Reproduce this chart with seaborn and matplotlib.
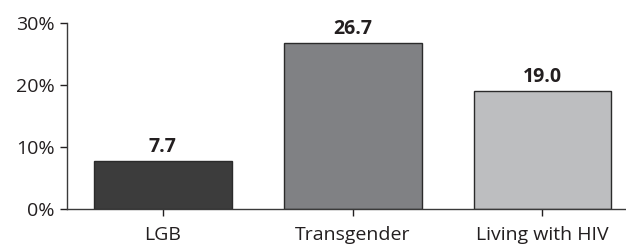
import pandas as pd
import seaborn as sns
import matplotlib.pyplot as plt
from matplotlib.ticker import FuncFormatter

# ---------------------------
# Datos
# ---------------------------
categorias = ["LGB", "Transgender", "Living with HIV"]
valores = [7.7, 26.7, 19.0]
colores = ["#3c3c3c", "#808184", "#bdbec0"]

df = pd.DataFrame({"grupo": categorias, "pct": valores})

# ---------------------------
# Figura
# ---------------------------
sns.set_style("ticks")
plt.rcParams["font.family"] = ["Open Sans", "DejaVu Sans"]

fig = plt.figure(figsize=(6.26, 2.45), dpi=100)
ax = fig.add_axes([0.107, 0.147, 0.893, 0.759])

sns.barplot(data=df, x="grupo", y="pct", hue="grupo", palette=colores,
            legend=False, width=0.726, edgecolor="#2b2b2b", linewidth=1.0,
            saturation=1, ax=ax)

for i, v in enumerate(valores):
    ax.annotate(f"{v:.1f}", (i, v), xytext=(0, 3), textcoords="offset points",
                ha="center", va="bottom", fontsize=14, fontweight="bold",
                color="#231f20")

ax.set_ylim(0, 30)
ax.set_xlim(-0.505, 2.44)
ax.set_yticks([0, 10, 20, 30])
ax.yaxis.set_major_formatter(FuncFormatter(lambda v, p: f"{v:.0f}%"))
ax.set_xlabel("")
ax.set_ylabel("")
ax.tick_params(axis="both", labelsize=14, colors="#231f20", length=5,
               width=1, direction="out")
ax.tick_params(axis="x", pad=7)
ax.tick_params(axis="y", pad=4)
sns.despine(ax=ax)
for s in ["left", "bottom"]:
    ax.spines[s].set_color("#3a3a3a")
    ax.spines[s].set_linewidth(1)

plt.savefig("out.png", dpi=100)
plt.close()
